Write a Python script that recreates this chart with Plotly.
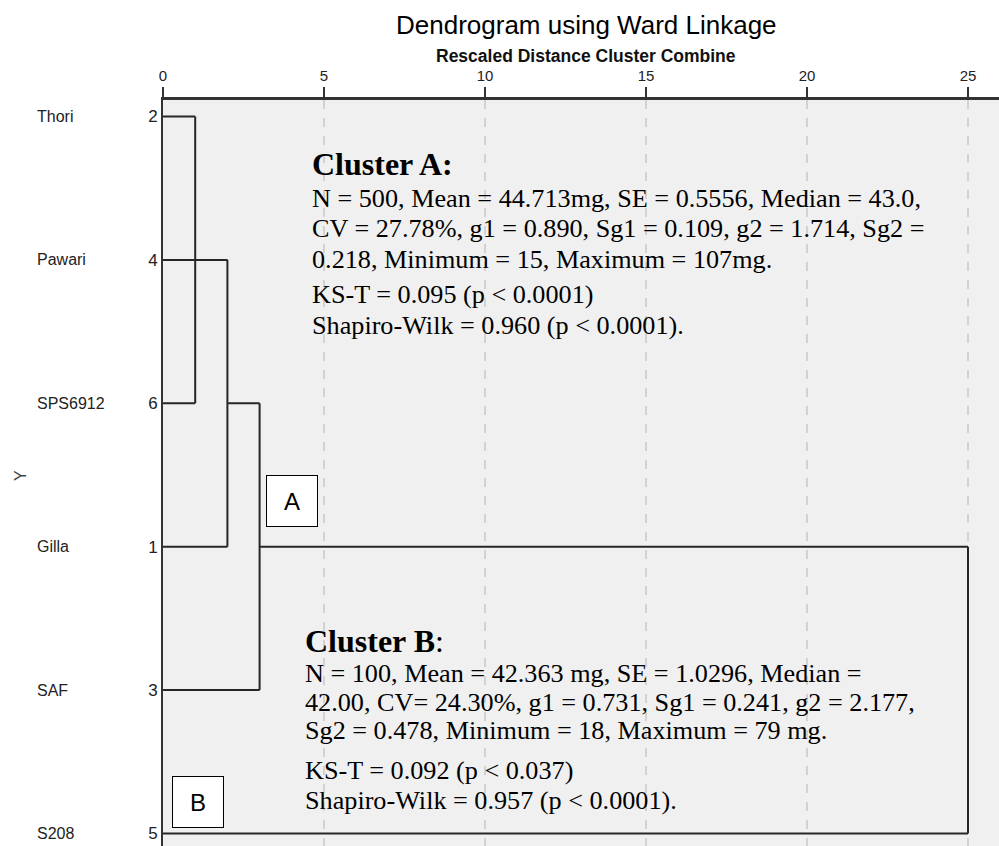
import plotly.graph_objects as go

# ---------------- data ----------------
leaf_names = ["Thori", "Pawari", "SPS6912", "Gilla", "SAF", "S208"]
case_numbers = ["2", "4", "6", "1", "3", "5"]
# merges: children (leaf names or previous merge ids "m0".."m2") and rescaled distance
merge_children = [["Thori", "SPS6912"], ["m0", "Pawari", "Gilla"], ["m1", "SAF"], ["m2", "S208"]]
merge_distances = [1, 2, 3, 25]
x_ticks = [0, 5, 10, 15, 20, 25]

cluster_a_lines = [
    "N = 500, Mean = 44.713mg, SE = 0.5556, Median = 43.0,",
    "CV = 27.78%, g1 = 0.890, Sg1 = 0.109, g2 = 1.714, Sg2 =",
    "0.218, Minimum = 15, Maximum = 107mg.",
    "KS-T = 0.095 (p &lt; 0.0001)",
    "Shapiro-Wilk = 0.960 (p &lt; 0.0001).",
]
cluster_b_lines = [
    "N = 100, Mean = 42.363 mg, SE = 1.0296, Median =",
    "42.00, CV= 24.30%, g1 = 0.731, Sg1 = 0.241, g2 = 2.177,",
    "Sg2 = 0.478, Minimum = 18, Maximum = 79 mg.",
    "KS-T = 0.092 (p &lt; 0.037)",
    "Shapiro-Wilk = 0.957 (p &lt; 0.0001).",
]

# ---------------- layout geometry (pixels) ----------------
W, H = 999, 846
L, T = 163, 100
PX_PER_X = 32.2
LEAF0_PX, LEAF_STEP = 116.5, 143.4

def ydata(p):
    return (p - LEAF0_PX) / LEAF_STEP

def xdata(p):
    return (p - L) / PX_PER_X

def ypaper(p):
    return (H - p) / (H - T)

def xpaper(p):
    return (p - L) / (W - L)

# ---------------- build dendrogram segments ----------------
node_y = {n: i for i, n in enumerate(leaf_names)}
node_h = {n: 0 for n in leaf_names}
seg_x, seg_y = [], []
for k, (children, d) in enumerate(zip(merge_children, merge_distances)):
    ys = []
    for c in children:
        cy, ch = node_y[c], node_h[c]
        seg_x += [ch, d, None]
        seg_y += [cy, cy, None]
        ys.append(cy)
    seg_x += [d, d, None]
    seg_y += [min(ys), max(ys), None]
    mid = (min(ys) + max(ys)) / 2
    node_y["m%d" % k] = mid
    node_h["m%d" % k] = d

fig = go.Figure()
fig.add_trace(go.Scatter(x=seg_x, y=seg_y, mode="lines",
                         line=dict(color="#262626", width=2),
                         hoverinfo="skip", showlegend=False))

sans = "Liberation Sans, Arial"
annotations = []
# title & subtitle
annotations.append(dict(text="Dendrogram using Ward Linkage", xref="paper", yref="paper",
                        x=xpaper(586), y=ypaper(25), xanchor="center", yanchor="middle",
                        showarrow=False, font=dict(family=sans, size=26, color="#000")))
annotations.append(dict(text="<b>Rescaled Distance Cluster Combine</b>", xref="paper", yref="paper",
                        x=xpaper(586), y=ypaper(56), xanchor="center", yanchor="middle",
                        showarrow=False, font=dict(family=sans, size=17.5, color="#111")))
# leaf names
for i, name in enumerate(leaf_names):
    annotations.append(dict(text=name, xref="paper", yref="y", x=xpaper(35), y=i,
                            xanchor="left", yanchor="middle", showarrow=False,
                            font=dict(family=sans, size=16, color="#222")))
# Y axis title
annotations.append(dict(text="Y", xref="paper", yref="paper", x=xpaper(20), y=ypaper(476),
                        xanchor="center", yanchor="middle", textangle=-90, showarrow=False,
                        font=dict(family=sans, size=16, color="#444")))

# cluster texts
serif = "Liberation Serif, Times New Roman, serif"
a_y = [164, 198, 228, 259, 294, 325]
b_y = [641, 673, 702, 730, 770, 800]
annotations.append(dict(text="<b>Cluster A:</b>", xref="x", yref="y", x=xdata(310), y=ydata(a_y[0]),
                        xanchor="left", yanchor="middle", showarrow=False,
                        font=dict(family=serif, size=32, color="black")))
for line, p in zip(cluster_a_lines, a_y[1:]):
    annotations.append(dict(text=line, xref="x", yref="y", x=xdata(310), y=ydata(p),
                            xanchor="left", yanchor="middle", showarrow=False,
                            font=dict(family=serif, size=26.2, color="black")))
annotations.append(dict(text="<b>Cluster B</b>:", xref="x", yref="y", x=xdata(303), y=ydata(b_y[0]),
                        xanchor="left", yanchor="middle", showarrow=False,
                        font=dict(family=serif, size=32, color="black")))
for line, p in zip(cluster_b_lines, b_y[1:]):
    annotations.append(dict(text=line, xref="x", yref="y", x=xdata(303), y=ydata(p),
                            xanchor="left", yanchor="middle", showarrow=False,
                            font=dict(family=serif, size=26.2, color="black")))

# boxed labels A and B
for lab, cx, cy in [("A", 292, 501), ("B", 198, 802)]:
    annotations.append(dict(text=lab, xref="x", yref="y", x=xdata(cx), y=ydata(cy),
                            xanchor="center", yanchor="middle",
                            showarrow=False, width=50, height=50, borderpad=0,
                            bordercolor="black", borderwidth=1, bgcolor="white",
                            font=dict(family=sans, size=24, color="black")))

fig.update_layout(
    width=W, height=H,
    margin=dict(l=L, r=0, t=T, b=0),
    paper_bgcolor="white", plot_bgcolor="#f0f0f0",
    showlegend=False,
    annotations=annotations,
    xaxis=dict(range=[0, xdata(W)], side="top", tickmode="array", tickvals=x_ticks,
               ticktext=[str(v) for v in x_ticks], ticks="outside", ticklen=10, tickwidth=2,
               tickcolor="#333", showline=True, linecolor="#333", linewidth=3,
               showgrid=True, gridcolor="#d2d2d2", griddash="dash", gridwidth=1.5,
               zeroline=False, tickfont=dict(family=sans, size=15, color="#222")),
    yaxis=dict(range=[ydata(H), ydata(T)], tickmode="array", tickvals=list(range(len(leaf_names))),
               ticktext=case_numbers, ticks="", showline=True, linecolor="#333", linewidth=2,
               showgrid=False, zeroline=False,
               tickfont=dict(family=sans, size=17, color="#222")),
)

fig.write_html("out.html", config={"displayModeBar": False},
               post_script="document.body.style.margin='0';document.body.style.overflow='hidden';")
